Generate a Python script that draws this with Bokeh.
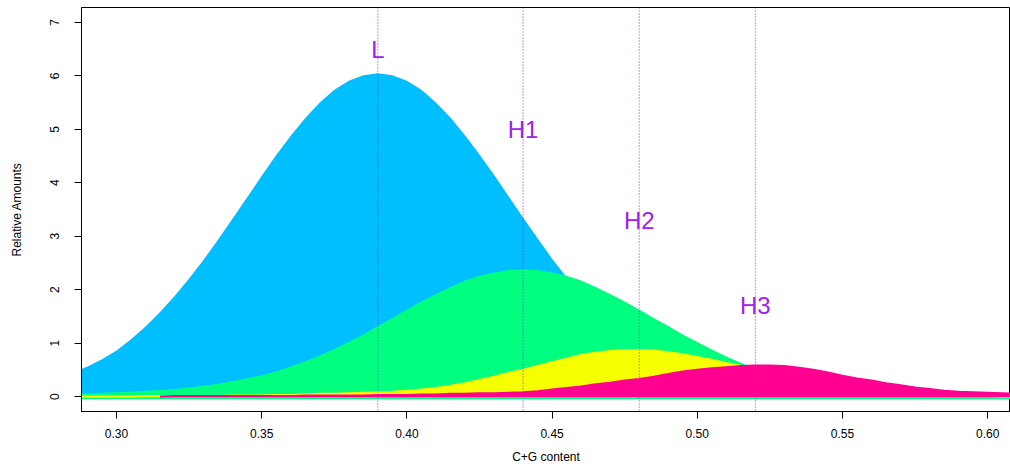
from bokeh.plotting import figure
from bokeh.models import Range1d, FixedTicker, Span, NumeralTickFormatter
from bokeh.core.properties import value
from bokeh.embed import file_html
from bokeh.resources import INLINE

# ---- data ----
gc = [0.285, 0.290, 0.295, 0.300, 0.305, 0.310, 0.315, 0.320, 0.325, 0.330,
      0.335, 0.340, 0.345, 0.350, 0.355, 0.360, 0.365, 0.370, 0.375, 0.380,
      0.385, 0.390, 0.395, 0.400, 0.405, 0.410, 0.415, 0.420, 0.425, 0.430,
      0.435, 0.440, 0.445, 0.450, 0.455, 0.460, 0.465, 0.470, 0.475, 0.480,
      0.485, 0.490, 0.495, 0.500, 0.505, 0.510, 0.515, 0.520, 0.525, 0.530,
      0.535, 0.540, 0.545, 0.550, 0.555, 0.560, 0.565, 0.570, 0.575, 0.580,
      0.585, 0.590, 0.595, 0.600, 0.605, 0.610]

L_amount = [0.45, 0.56, 0.70, 0.86, 1.07, 1.31, 1.58, 1.88, 2.21, 2.56,
            2.94, 3.33, 3.73, 4.13, 4.52, 4.88, 5.21, 5.50, 5.74, 5.91,
            6.01, 6.05, 6.01, 5.91, 5.74, 5.50, 5.22, 4.89, 4.53, 4.15,
            3.75, 3.35, 2.96, 2.58, 2.23, 1.90, 1.60, 1.33, 1.10, 0.89,
            0.72, 0.57, 0.45, 0.35, 0.27, 0.20, 0.15, 0.11, 0.08, 0.06,
            0.04, 0.03, 0.02, 0.01, 0.01, 0.00, 0.00, 0.00, 0.00, 0.00,
            0.00, 0.00, 0.00, 0.00, 0.00, 0.00]

H1_amount = [0.06, 0.06, 0.07, 0.08, 0.09, 0.11, 0.12, 0.14, 0.17, 0.20,
             0.24, 0.29, 0.34, 0.40, 0.47, 0.56, 0.66, 0.77, 0.89, 1.02,
             1.16, 1.32, 1.47, 1.63, 1.78, 1.92, 2.05, 2.17, 2.26, 2.32,
             2.37, 2.38, 2.37, 2.32, 2.26, 2.17, 2.05, 1.92, 1.78, 1.63,
             1.47, 1.32, 1.16, 1.02, 0.88, 0.75, 0.63, 0.52, 0.43, 0.35,
             0.27, 0.21, 0.16, 0.12, 0.09, 0.07, 0.05, 0.04, 0.03, 0.02,
             0.02, 0.01, 0.01, 0.01, 0.01, 0.01]

H2_amount = [0.00, 0.00, 0.00, 0.00, 0.00, 0.01, 0.01, 0.01, 0.01, 0.01,
             0.01, 0.02, 0.02, 0.02, 0.03, 0.03, 0.04, 0.05, 0.05, 0.06,
             0.07, 0.08, 0.09, 0.11, 0.13, 0.16, 0.20, 0.25, 0.31, 0.37,
             0.44, 0.50, 0.57, 0.64, 0.71, 0.78, 0.82, 0.85, 0.87, 0.87,
             0.86, 0.83, 0.79, 0.74, 0.69, 0.63, 0.57, 0.50, 0.43, 0.37,
             0.31, 0.25, 0.20, 0.16, 0.12, 0.09, 0.07, 0.05, 0.04, 0.03,
             0.02, 0.01, 0.01, 0.01, 0.00, 0.00]

# H3 starts at C+G = 0.315
gc_h3 = gc[6:]
H3_amount = [0.00, 0.01, 0.01, 0.01, 0.01, 0.01, 0.01, 0.01, 0.01, 0.01,
             0.02, 0.02, 0.02, 0.02, 0.02, 0.03, 0.03, 0.03, 0.04, 0.04,
             0.05, 0.05, 0.06, 0.06, 0.07, 0.08, 0.10, 0.13, 0.16, 0.19,
             0.23, 0.26, 0.30, 0.33, 0.37, 0.42, 0.47, 0.50, 0.53, 0.55,
             0.57, 0.58, 0.58, 0.57, 0.54, 0.50, 0.45, 0.39, 0.34, 0.30,
             0.25, 0.21, 0.17, 0.14, 0.11, 0.09, 0.08, 0.07, 0.06, 0.05]

label_text = ["L", "H1", "H2", "H3"]
label_x = [0.39, 0.44, 0.48, 0.52]
label_y = [6.5, 5.0, 3.3, 1.7]

x_ticks = [0.30, 0.35, 0.40, 0.45, 0.50, 0.55, 0.60]
y_ticks = [0, 1, 2, 3, 4, 5, 6, 7]

# ---- styling ----
FONT = "Liberation Sans"
PURPLE = "#A020F0"

p = figure(width=1010, height=466, output_backend="svg", toolbar_location=None,
           title=None,
           x_range=Range1d(0.28795, 0.60785), y_range=Range1d(-0.28, 7.28),
           min_border_left=81, min_border_right=0, min_border_top=7,
           min_border_bottom=55,
           x_axis_label="C+G content", y_axis_label="Relative Amounts")
p.grid.visible = False
p.outline_line_color = "black"
p.outline_line_width = 1
p.background_fill_color = "white"
p.border_fill_color = "white"

# fills (drawn in order, later ones on top)
p.varea(x=gc, y1=0, y2=L_amount, fill_color="#00BFFF")
p.varea(x=gc, y1=-0.05, y2=H1_amount, fill_color="#00FF7F")
p.varea(x=gc, y1=-0.015, y2=H2_amount, fill_color="#F5FF00")
p.line(x=gc, y=H2_amount, line_color="#F5FF00", line_width=2)
p.varea(x=gc_h3, y1=-0.015, y2=H3_amount, fill_color="#FF0090")
p.line(x=gc_h3, y=H3_amount, line_color="#FF0090", line_width=2)

for lx in label_x:
    p.add_layout(Span(location=lx, dimension="height", line_color=PURPLE,
                      line_dash="1 2", line_width=1, line_alpha=1.0))

p.text(x=label_x, y=label_y, text=label_text, text_font=value(FONT),
       text_font_size="24px", text_color=PURPLE, text_align="center",
       text_baseline="middle")

xa = p.xaxis[0]
xa.ticker = FixedTicker(ticks=x_ticks)
xa.formatter = NumeralTickFormatter(format="0.00")
ya = p.yaxis[0]
ya.ticker = FixedTicker(ticks=y_ticks)
ya.major_label_orientation = "vertical"

for ax in (xa, ya):
    ax.major_tick_out = 7
    ax.major_tick_in = 0
    ax.minor_tick_out = 0
    ax.minor_tick_in = 0
    ax.axis_line_color = "black"
    ax.major_tick_line_color = "black"
    ax.major_label_text_font = FONT
    ax.major_label_text_font_size = "12px"
    ax.major_label_text_color = "black"
    ax.axis_label_text_font = FONT
    ax.axis_label_text_font_size = "12px"
    ax.axis_label_text_font_style = "normal"
    ax.axis_label_text_color = "black"

xa.major_label_standoff = 10
xa.axis_label_standoff = 9
ya.major_label_standoff = 15
ya.axis_label_standoff = 24

open("out.html", "w").write(file_html(p, INLINE))
